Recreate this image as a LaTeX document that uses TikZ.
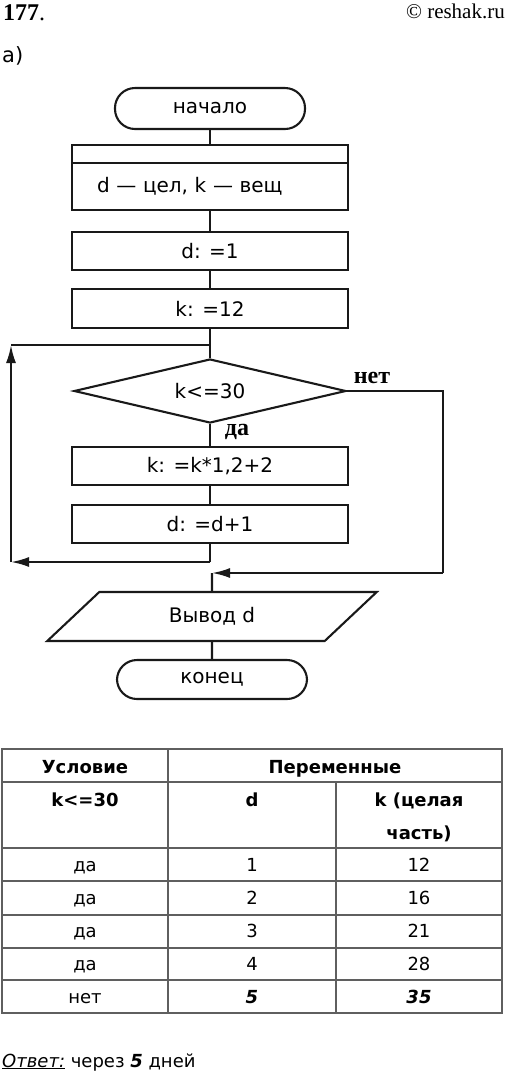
\documentclass[tikz,border=0pt]{standalone}
\usepackage{fontspec}
\setmainfont{DejaVu Sans}
\newfontfamily\labelfont{Liberation Serif}
\newfontfamily\itemfont{DejaVu Sans}
\usetikzlibrary{arrows.meta,shapes.geometric,positioning}
\definecolor{inkline}{RGB}{25,25,25}
\definecolor{gridline}{RGB}{95,95,95}

\tikzset{
  block/.style={draw=inkline,line width=2.1pt,rectangle,minimum width=276pt,minimum height=38pt,inner sep=0pt,font=\fontsize{20}{24}\selectfont},
  terminal/.style={block,minimum width=190pt,minimum height=41pt,rounded corners=20pt},
  decision/.style={draw=inkline,line width=2.1pt,diamond,aspect=4.25,minimum width=272pt,minimum height=64pt,inner sep=0pt,font=\fontsize{20}{24}\selectfont},
  io/.style={draw=inkline,line width=2.1pt,trapezium,trapezium left angle=42,trapezium right angle=138,trapezium stretches=true,minimum width=330pt,minimum height=49pt,inner sep=0pt,font=\fontsize{20}{24}\selectfont},
  flow/.style={draw=inkline,line width=2.1pt},
  branch/.style={font=\labelfont\bfseries\fontsize{24}{28}\selectfont,inner sep=0pt},
  cell/.style={font=\fontsize{18}{22}\selectfont,inner sep=0pt,anchor=base},
  headcell/.style={font=\bfseries\fontsize{18}{22}\selectfont,inner sep=0pt,anchor=base},
  grid/.style={draw=gridline,line width=1.3pt}
}

\begin{document}
\begin{tikzpicture}[x=1pt,y=-1pt,>={Latex[length=18pt,width=10pt]}]
\useasboundingbox (0,0) rectangle (508,1080);

% heading
\node[anchor=base west,inner sep=0pt,font=\labelfont\fontsize{24}{26}\selectfont] (num) at (3,20) {\textbf{177}.};
\node[anchor=base east,inner sep=0pt,font=\labelfont\fontsize{21}{24}\selectfont] (site) at (505,18) {© reshak.ru};
\node[anchor=base west,inner sep=0pt,font=\itemfont\fontsize{21}{24}\selectfont] (part) at (2,62) {а)};

% flowchart
\node[terminal] (start) at (210,108.5) {начало};
\node[block,minimum height=18pt] (strip) at (210,154) {};
\node[block,minimum height=47pt,text width=226pt,align=left,inner xsep=25pt] (decl) at (210,186.5) {d — цел, k — вещ};
\node[block] (dinit) at (210,251) {d: =1};
\node[block,minimum height=39pt] (kinit) at (210,308.5) {k: =12};
\node[decision] (cond) at (210,391) {k<=30};
\node[block] (kstep) at (210,466) {k: =k*1,2+2};
\node[block] (dstep) at (210,524) {d: =d+1};
\node[io] (out) at (212,616.5) {Вывод d};
\node[terminal,minimum height=39pt] (stop) at (212,679.5) {конец};

\node[branch] (yes) at (237,432) {да};
\node[branch] (no) at (372,378) {нет};

\coordinate (backa) at (210,562);
\coordinate (backb) at (11,562);
\coordinate (backc) at (11,345);
\coordinate (backd) at (210,345);
\coordinate (nota) at (443,391);
\coordinate (notb) at (443,573);
\coordinate (join) at (212,573);

\draw[flow] (start) -- (strip);
\draw[flow] (decl) -- (dinit);
\draw[flow] (dinit) -- (kinit);
\draw[flow] (kinit) -- (cond);
\draw[flow] (cond) -- (kstep);
\draw[flow] (kstep) -- (dstep);
\draw[flow] (dstep) -- (backa);
\draw[flow,->] (backa) -- (backb);
\draw[flow,->] (backb) -- (backc);
\draw[flow] (backc) -- (backd);
\draw[flow] (cond.east) -- (nota) -- (notb);
\draw[flow,->] (notb) -- (join);
\draw[flow] (join) -- (out);
\draw[flow] (out) -- (stop);

% table
\draw[grid] (2,749) rectangle (502,1013);
\draw[grid] (168,749) -- (168,1013);
\draw[grid] (336,782) -- (336,1013);
\foreach \y in {782,848,881,915,948,980}
  \draw[grid] (2,\y) -- (502,\y);

\node[headcell] (hcond) at (85,773) {Условие};
\node[headcell] (hvars) at (335,773) {Переменные};
\node[headcell] (hlim) at (85,806) {k<=30};
\node[headcell] (hd) at (252,806) {d};
\node[headcell] (hk) at (419,806) {k (целая};
\node[headcell] (hkk) at (419,839) {часть)};

\foreach \ans/\dv/\kv [count=\r] in {да/1/12,да/2/16,да/3/21,да/4/28} {
  \node[cell] (ans\r) at (85,{871+33*(\r-1)}) {\ans};
  \node[cell] (dv\r) at (252,{871+33*(\r-1)}) {\dv};
  \node[cell] (kv\r) at (419,{871+33*(\r-1)}) {\kv};
}
\node[cell] (ans5) at (85,1003) {нет};
\node[headcell] (dv5) at (252,1003) {\itshape 5};
\node[headcell] (kv5) at (419,1003) {\itshape 35};

\node[anchor=base west,inner sep=0pt,font=\fontsize{18}{21}\selectfont] (answer) at (2,1067) {\underline{\itshape Ответ:} через \textbf{\itshape 5} дней};
\end{tikzpicture}
\end{document}
